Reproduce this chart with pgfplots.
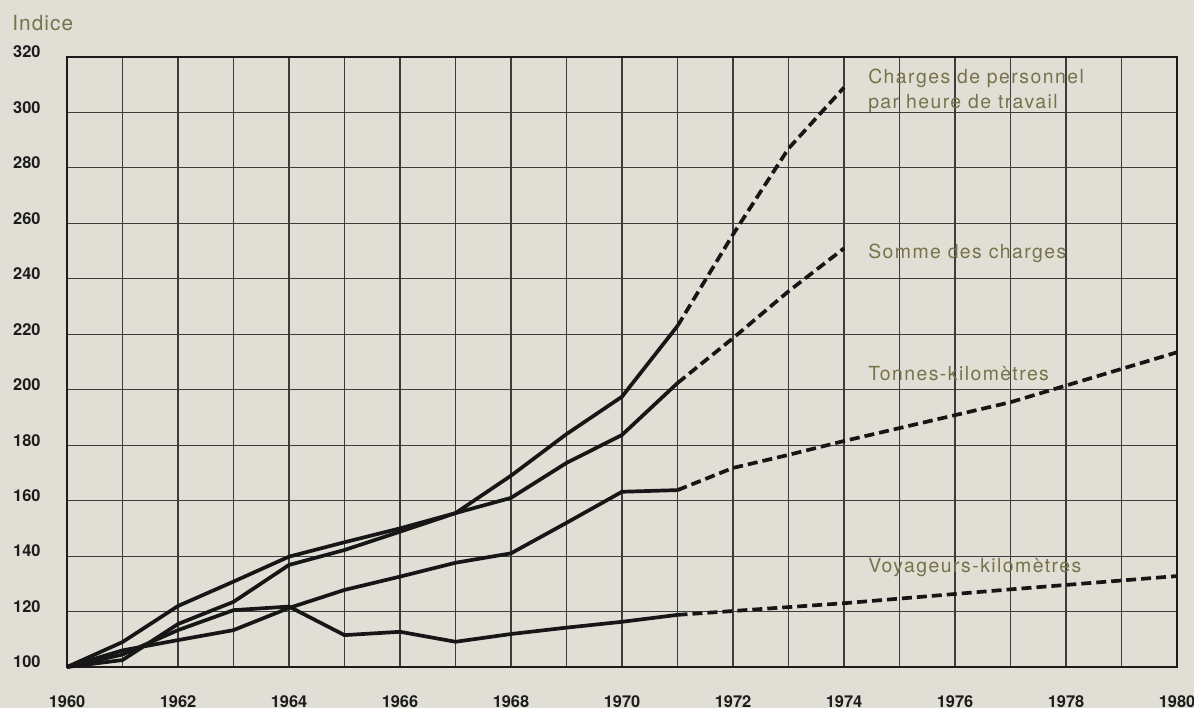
\documentclass[border=0pt]{standalone}
\usepackage{pgfplots}
\pgfplotsset{compat=1.18}
\usepackage{fontspec}
\setmainfont{TeX Gyre Heros}
\newfontfamily\labfont[LetterSpace=7.5]{TeX Gyre Heros}
\newfontfamily\indfont[LetterSpace=5]{TeX Gyre Heros}
\definecolor{paper}{RGB}{225,222,213}
\definecolor{gridc}{RGB}{60,60,60}
\definecolor{labc}{RGB}{118,115,74}
\definecolor{tickc}{RGB}{28,28,28}
\definecolor{linec}{RGB}{22,22,22}

\begin{document}
\begin{tikzpicture}
\fill[paper] (-33.5pt,-20.5pt) rectangle (563.5pt,333.5pt);
\begin{axis}[
 at={(0,0)}, anchor=south west,
 scale only axis, width=555pt, height=305pt,
 xmin=1960, xmax=1980, ymin=100, ymax=320,
 xtick={1960,1962,...,1980}, minor xtick={1961,1963,...,1979},
 ytick={100,120,...,320},
 grid=both,
 major grid style={gridc, line width=0.55pt},
 minor grid style={gridc, line width=0.55pt},
 axis line style={tickc, line width=1pt},
 major tick length=0pt, minor tick length=0pt,
 tick style={draw=none},
 /pgf/number format/1000 sep={},
 /pgf/number format/assume math mode=true,
 ticklabel style={font=\fontsize{8.2}{9.8}\selectfont\bfseries, text=tickc, inner sep=0pt},
 xticklabel style={anchor=north, yshift=-14pt},
 yticklabel style={anchor=east, xshift=-13pt, yshift=2.5pt},
 clip=false,
 every axis plot/.append style={line width=1.85pt, color=linec, line join=round, mark=none},
 solidl/.style={solid},
 dashl/.style={dash pattern=on 5pt off 2.5pt},
]
% Charges de personnel par heure de travail
\addplot[solidl] coordinates {(1960,100)(1961,102.5)(1962,115.5)(1963,123.5)(1964,136.8)(1965,142.2)(1966,148.8)(1967,155.5)(1968,169)(1969,184)(1970,197.5)(1971,223)};
\addplot[dashl] coordinates {(1971,223)(1972,256)(1973,287)(1974,309)};
% Somme des charges
\addplot[solidl] coordinates {(1960,100)(1961,109)(1962,122)(1963,130.8)(1964,139.8)(1965,145)(1966,150)(1967,155.5)(1968,161)(1969,173.6)(1970,183.7)(1971,202.4)};
\addplot[dashl] coordinates {(1971,202.4)(1972,218.6)(1973,235.5)(1974,251)};
% Tonnes-kilometres
\addplot[solidl] coordinates {(1960,100)(1961,106)(1962,109.7)(1963,113.3)(1964,121.3)(1965,127.8)(1966,132.6)(1967,137.6)(1968,141)(1969,152)(1970,163.2)(1971,163.8)};
\addplot[dashl] coordinates {(1971,163.8)(1972,171.8)(1973,176.5)(1974,181.5)(1977,195.5)(1980,213.5)};
% Voyageurs-kilometres
\addplot[solidl] coordinates {(1960,100)(1961,104.5)(1962,113.3)(1963,120.5)(1964,121.8)(1965,111.5)(1966,112.7)(1967,109.1)(1968,111.9)(1969,114.2)(1970,116.3)(1971,118.8)};
\addplot[dashl] coordinates {(1971,118.8)(1974,123)(1977,128)(1980,132.8)};

\node[anchor=west, text=labc, font=\fontsize{10.4}{12}\indfont, inner sep=0pt] at (rel axis cs:0,1) [xshift=-27.5pt, yshift=17pt] {Indice};
\node[anchor=west, align=left, text=labc, font=\fontsize{9.7}{12.5}\labfont, inner sep=0pt] at (axis cs:1974.43,307.9) {Charges de personnel\\par heure de travail};
\node[anchor=west, text=labc, font=\fontsize{9.7}{12.5}\labfont, inner sep=0pt] at (axis cs:1974.43,249.3) {Somme des charges};
\node[anchor=west, text=labc, font=\fontsize{9.7}{12.5}\labfont, inner sep=0pt] at (axis cs:1974.43,206) {Tonnes-kilomètres};
\node[anchor=west, text=labc, font=\fontsize{9.7}{12.5}\labfont, inner sep=0pt] at (axis cs:1974.43,136) {Voyageurs-kilomètres};
\end{axis}
\pgfresetboundingbox
\path[use as bounding box] (-33.5pt,-20.5pt) rectangle (563.5pt,333.5pt);
\end{tikzpicture}
\end{document}
